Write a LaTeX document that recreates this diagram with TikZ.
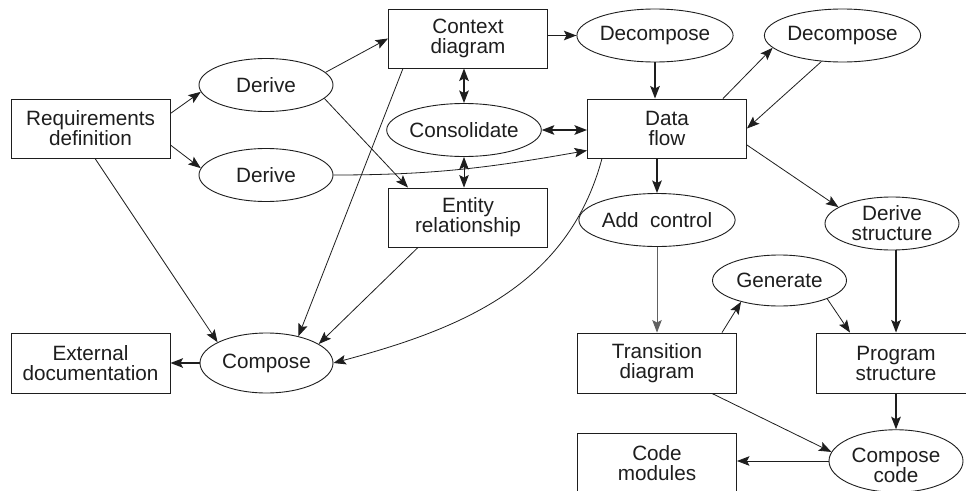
\documentclass[tikz,border=0pt]{standalone}
\usepackage{fontspec}
\setmainfont{Liberation Sans}
\usetikzlibrary{shapes.geometric,arrows.meta,calc}
\definecolor{ink}{HTML}{1E1E1E}
\tikzset{
  lbl/.style={font=\fontsize{20.7}{20}\selectfont, text=ink, align=center, inner sep=0pt},
  box/.style={lbl, draw=ink, line width=0.9pt, rectangle, minimum width=159pt, minimum height=59pt},
  proc/.style={lbl, draw=ink, line width=0.9pt, ellipse, minimum width=134pt, minimum height=53pt},
  tip/.tip={Stealth[length=12.5pt,width=9.5pt,inset=2.5pt]},
  flow/.style={draw=ink, line width=0.8pt, -tip},
  heavy/.style={draw=ink, line width=1.8pt, -tip},
  both/.style={draw=ink, line width=1.8pt, tip-tip},
  boththin/.style={draw=ink, line width=0.9pt, tip-tip},
}
\begin{document}
\begin{tikzpicture}[x=1pt, y=-1pt]
\clip (0,0) rectangle (966,490);
\fill[white] (0,0) rectangle (966,490);

% processes and products
\node[box]  (req)     at (90.5,128.5) {Requirements\\definition};
\node[proc] (deriveA) at (266,85)     {Derive};
\node[proc] (deriveB) at (266,175)    {Derive};
\node[box]  (ctx)     at (468,38.5)   {Context\\diagram};
\node[proc] (dec1)    at (655,35.5)   {Decompose};
\node[proc] (cons)    at (464,130)    {Consolidate};
\node[box]  (dflow)   at (667,128.5)  {Data\\flow};
\node[box]  (ent)     at (468,217.5)  {Entity\\relationship};
\node[proc] (dec2)    at (842.5,35.5) {Decompose};
\node[proc] (dstruct) at (892,223.5)  {Derive\\structure};
\node[proc] (addc)    at (657,220)    {Add\ \ control};
\node[proc, minimum height=51pt] (gen) at (779.5,280.5) {Generate};
\node[box, minimum height=60pt] (trans) at (657,363) {Transition\\diagram};
\node[box, minimum height=60pt] (prog)  at (896,363) {Program\\structure};
\node[proc, minimum height=58pt] (ccode) at (896,461) {\rule{0pt}{8pt}\\[-4pt]Compose\\code};
\node[box, minimum height=60pt] (codem) at (657,463) {Code\\modules};
\node[box, minimum height=60pt] (extdoc) at (90.5,363) {External\\documentation};
\node[proc, minimum width=133pt, minimum height=60pt] (comp) at (266.5,363) {Compose};

% connectors
\draw[flow] ([yshift=15pt]req.east) -- (deriveA.186);
\draw[flow] ([yshift=-16.5pt]req.east) -- (deriveB.174);
\draw[flow] ([xshift=4.5pt]req.south) -- (comp.157);
\draw[flow] (deriveA.12) -- (ctx.west);
\draw[flow] (deriveA.-13) -- ([xshift=-60pt]ent.north);
\draw[flow] (deriveB.east) to[out=0, in=190] ([yshift=-22pt]dflow.west);
\draw[heavy] ([yshift=3pt]ctx.east) -- (dec1.west);
\draw[heavy] (dec1.south) -- (dec1.south |- dflow.north);
\draw[both] (cons.north) -- (cons.north |- ctx.south);
\draw[both] (cons.east) -- (cons.east -| dflow.west);
\draw[boththin] (cons.south) -- (cons.south |- ent.north);
\draw[flow] ([xshift=-65pt]ctx.south) -- (comp.40);
\draw[flow] ([xshift=-50pt]ent.south) -- (comp.20);
\draw[flow] ([xshift=-65pt]dflow.south) to[out=-105, in=15] (comp.east);
\draw[flow] ([xshift=56pt]dflow.north) -- (dec2.190);
\draw[flow] (dec2.231) -- (dflow.east);
\draw[flow] ([yshift=-16.5pt]dflow.east) -- (dstruct.163);
\draw[heavy] (addc.north |- dflow.south) -- (addc.north);
\draw[flow, draw=ink!70] (addc.south) -- (addc.south |- trans.north);
\draw[flow] ([xshift=65pt]trans.north) -- (gen.209);
\draw[flow] (gen.-21) -- ([xshift=-46pt]prog.north);
\draw[heavy] (dstruct.south -| prog.north) -- (prog.north);
\draw[heavy] (prog.south) -- (prog.south |- ccode.north);
\draw[flow] ([xshift=55pt]trans.south) -- (ccode.172);
\draw[flow] (ccode.west) -- (ccode.west -| codem.east);
\draw[heavy] (comp.west) -- (comp.west -| extdoc.east);
\end{tikzpicture}
\end{document}
